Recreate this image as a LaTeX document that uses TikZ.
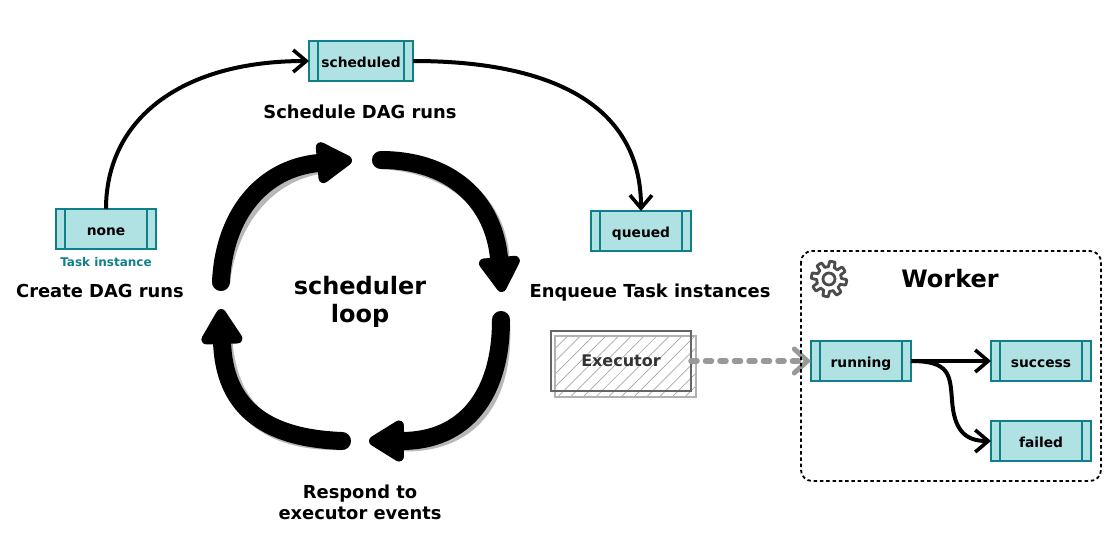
\documentclass[tikz,border=0pt]{standalone}
\usepackage{fontspec}
\setmainfont{DejaVu Sans}
\usetikzlibrary{arrows.meta,patterns.meta}

\definecolor{taskfill}{HTML}{B0E2E4}
\definecolor{taskline}{HTML}{108088}
\tikzset{
  boldtext/.style={font=\fontsize{#1}{1.16\dimexpr#1pt\relax}\selectfont\bfseries,align=center,inner sep=0pt},
  taskbox/.style={draw=taskline,fill=taskfill,line width=1.6pt,minimum width=100pt,minimum height=40pt,
    inner sep=0pt,outer sep=0pt,text height=15.5pt,text depth=2pt,font=\fontsize{13.8}{16}\selectfont\bfseries,
    path picture={
      \draw[taskline,line width=1.6pt] ([xshift=9pt]path picture bounding box.north west) -- ([xshift=9pt]path picture bounding box.south west);
      \draw[taskline,line width=1.6pt] ([xshift=-9pt]path picture bounding box.north east) -- ([xshift=-9pt]path picture bounding box.south east);
    }},
  flow/.style={draw=black,line width=4pt,-{Straight Barb[length=13pt,width=22pt,line width=3.6pt]}},
  loopstem/.style={line width=18pt,line cap=round,-{Triangle[round,length=40pt,width=46pt,line width=10pt]}},
  loopshadow/.style={line width=18pt,line cap=round,black!28,shift={(4.5pt,-4.5pt)},shorten >=30pt},
}

\begin{document}
\begin{tikzpicture}[x=1pt,y=-1pt]
  \useasboundingbox (0,0) rectangle (1120,560);

  % task states
  \node[taskbox] (none) at (106,229) {none};
  \node[taskbox,minimum width=104pt] (scheduled) at (361,61) {scheduled};
  \node[taskbox] (queued) at (641,231) {queued};
  \node[taskbox] (running) at (861,361) {running};
  \node[taskbox] (success) at (1041,361) {success};
  \node[taskbox] (failed) at (1041,441) {failed};

  \node[boldtext=12,text=taskline] (instance) at (106,262) {Task instance};
  \node[boldtext=17.9] (create) at (100,291) {Create DAG runs};
  \node[boldtext=17.9] (schedule) at (360,112) {Schedule DAG runs};
  \node[boldtext=17.9] (enqueue) at (650,292.5) {Enqueue Task instances};
  \node[boldtext=17.9] (respond) at (360,502) {Respond to\\executor events};
  \node[boldtext=24] (loop) at (360,302) {scheduler\\loop};

  \draw[flow] (none.north) .. controls (106,120) and (180,61) .. (scheduled.west);
  \draw[flow] (scheduled.east) .. controls (560,61) and (641,110) .. (queued.north);

  % scheduler loop
  \coordinate (a0) at (221,282);
  \coordinate (a1) at (352,160);
  \coordinate (b0) at (381,160);
  \coordinate (b1) at (502,292);
  \coordinate (c0) at (501,320);
  \coordinate (c1) at (369,441);
  \coordinate (d0) at (342,441);
  \coordinate (d1) at (221,309);
  \foreach \from/\to/\ctrla/\ctrlb in {
    a0/a1/{(224,215)}/{(262,168)},
    b0/b1/{(450,160)}/{(494,200)},
    c0/c1/{(501,395)}/{(465,441)},
    d0/d1/{(262,438)}/{(224,405)}}{
    \draw[loopshadow] (\from) .. controls \ctrla and \ctrlb .. (\to);
  }
  \foreach \from/\to/\ctrla/\ctrlb in {
    a0/a1/{(224,215)}/{(262,168)},
    b0/b1/{(450,160)}/{(494,200)},
    c0/c1/{(501,395)}/{(465,441)},
    d0/d1/{(262,438)}/{(224,405)}}{
    \draw[loopstem] (\from) .. controls \ctrla and \ctrlb .. (\to);
  }

  % executor
  \draw[draw=black!30,line width=1.5pt,pattern={Lines[angle=45,distance=9pt,line width=.7pt]},pattern color=black!35]
    (555,336) rectangle (696,397);
  \node[draw=black!60,line width=2pt,minimum width=140pt,minimum height=60pt,inner sep=0pt,outer sep=0pt,
    font=\fontsize{16}{18}\selectfont\bfseries,text=black!80] (executor) at (621,361) {Executor};
  \draw[draw=black!40,line width=5.5pt,dash pattern=on 6pt off 8.5pt,line cap=round,
    -{Straight Barb[length=13pt,width=24pt,line width=5pt,line cap=round]}] (executor.east) -- (running.west);

  % worker
  \draw[line width=1.8pt,dash pattern=on 3.5pt off 2.8pt,rounded corners=11pt] (801,251) rectangle (1101,481);
  \node[boldtext=24] (worker) at (950,279) {Worker};
  \draw[black!70,line width=2.8pt,line join=round,samples=145,domain=0:360,variable=\x]
    plot ({829+(15+2.7*max(min(3*sin(8*\x),1),-1))*cos(\x)},{279+(15+2.7*max(min(3*sin(8*\x),1),-1))*sin(\x)}) -- cycle;
  \draw[black!70,line width=2.8pt] (829,279) circle (6);

  \draw[flow] (running.east) -- (success.west);
  \draw[flow] (running.east) .. controls (950,361) and (950,375) .. (952,400)
    .. controls (954,430) and (965,441) .. (failed.west);
\end{tikzpicture}
\end{document}
